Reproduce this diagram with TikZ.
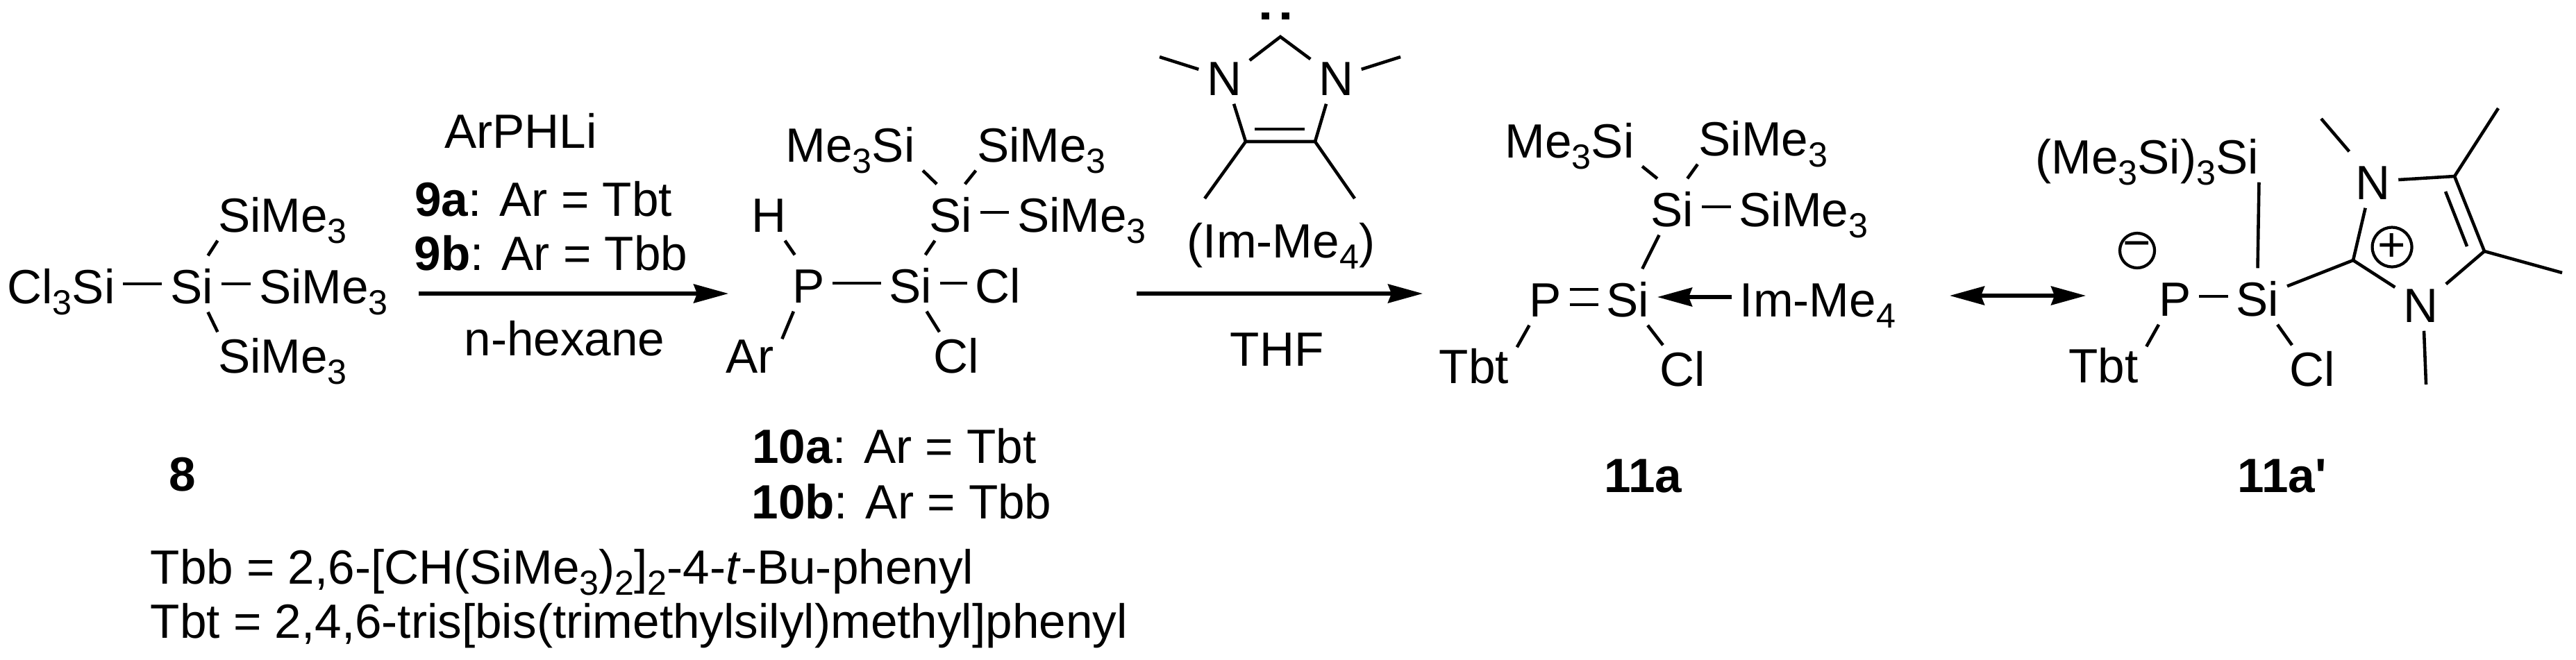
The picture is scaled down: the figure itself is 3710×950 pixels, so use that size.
\documentclass[tikz,border=0pt]{standalone}
\usepackage{fontspec}
\setmainfont{Liberation Sans}[Ligatures=TeXOff]
\usetikzlibrary{arrows.meta}
\newcommand{\lo}[1]{\raisebox{-4.8pt}{\fontsize{14.3}{14}\selectfont #1}}
\tikzset{
  atom/.style={anchor=base, inner xsep=.11cm, inner ysep=.12cm, text height=.56cm, text depth=0pt, font=\fontsize{19.7}{23}\selectfont},
  note/.style={anchor=base west, inner sep=0pt, font=\fontsize{19.7}{23}\selectfont},
  bond/.style={line width=1.3pt},
  react/.style={line width=1.45pt, -{Stealth[length=.5cm,width=.27cm,inset=.05cm]}},
  both/.style={line width=1.45pt, {Stealth[length=.5cm,width=.27cm,inset=.05cm]}-{Stealth[length=.5cm,width=.27cm,inset=.05cm]}},
  charge/.style={circle, draw, line width=1.2pt, inner sep=0pt, minimum size=.5cm, font=\fontsize{19.7}{23}\selectfont}
}
\begin{document}
\begin{tikzpicture}[x=.01cm, y=-.01cm]
\useasboundingbox (0,0) rectangle (3710,950);

% 8
\node (cl8) at (88, 437) [atom] {Cl\lo{3}Si};
\node (si8) at (276, 437) [atom] {Si};
\node (right8) at (466, 437) [atom] {SiMe\lo{3}};
\node (top8) at (407, 334) [atom] {SiMe\lo{3}};
\node (bot8) at (407, 537) [atom] {SiMe\lo{3}};
\node (name8) at (263, 707) [atom] {\textbf{8}};
\draw [bond] (cl8.east) -- (si8.west);
\draw [bond] (si8.east) -- (right8.west);
\draw [bond] (si8.60) -- ([xshift=.11cm]top8.south west);
\draw [bond] (si8.-60) -- ([xshift=.11cm,yshift=-.1cm]bot8.north west);

% first arrow
\coordinate (a1s) at (603, 423);
\coordinate (a1e) at (1049, 423);
\draw [react] (a1s) -- (a1e);
\node (arphli) at (750, 213) [atom] {ArPHLi};
\node (r9a) at (782.5, 311) [atom] {\textbf{9a}: Ar = Tbt};
\node (r9b) at (793.5, 389) [atom] {\textbf{9b}: Ar = Tbb};
\node (hexane) at (813, 512) [atom] {n-hexane};

% 10
\node (me10) at (1224.5, 233) [atom] {Me\lo{3}Si};
\node (top10) at (1500, 233) [atom] {SiMe\lo{3}};
\node (siu10) at (1369, 334) [atom] {Si};
\node (right10) at (1558, 334) [atom] {SiMe\lo{3}};
\node (h10) at (1107, 334) [atom] {H};
\node (p10) at (1164.5, 436) [atom] {P};
\node (si10) at (1311, 436) [atom] {Si};
\node (cl10) at (1437, 436) [atom] {Cl};
\node (clb10) at (1377, 537) [atom] {Cl};
\node (ar10) at (1080, 537) [atom] {Ar};
\node (name10a) at (1288, 667) [atom] {\textbf{10a}: Ar = Tbt};
\node (name10b) at (1298.5, 747) [atom] {\textbf{10b}: Ar = Tbb};
\draw [bond] (h10.-60) -- (p10.116);
\draw [bond] (p10.east) -- (si10.west);
\draw [bond] (si10.east) -- (cl10.west);
\draw [bond] (si10.62) -- (siu10.-119);
\draw [bond] (si10.-60) -- ([xshift=-.24cm,yshift=-.1cm]clb10.north);
\draw [bond] (p10.-118) -- (ar10.24);
\draw [bond] (me10.south east) -- (siu10.116);
\draw [bond] ([xshift=.1cm]top10.south west) -- (siu10.63);
\draw [bond] (siu10.east) -- (right10.west);

% Im-Me4
\node (n1im) at (1763, 137) [atom] {N};
\node (n2im) at (1924, 137) [atom] {N};
\coordinate (c2im) at (1844, 53);
\coordinate (c4im) at (1794, 204);
\coordinate (c5im) at (1894, 204);
\coordinate (me1im) at (1670, 82);
\coordinate (me2im) at (2017, 82);
\coordinate (me4im) at (1735, 286);
\coordinate (me5im) at (1951, 286);
\fill (1817, 18) rectangle (1828, 28);
\fill (1846, 18) rectangle (1857, 28);
\draw [bond] (n1im.31) -- (c2im) -- (n2im.147);
\draw [bond] (n1im.-71) -- (c4im) -- (c5im) -- (n2im.-109);
\draw [bond] ([xshift=.13cm,yshift=.18cm]c4im) -- ([xshift=-.15cm,yshift=.18cm]c5im);
\draw [bond] (n1im.166) -- (me1im);
\draw [bond] (n2im.14) -- (me2im);
\draw [bond] (c4im) -- (me4im);
\draw [bond] (c5im) -- (me5im);
\node (imme) at (1845, 371) [atom] {(Im-Me\lo{4})};

% second arrow
\coordinate (a2s) at (1637, 423);
\coordinate (a2e) at (2049, 423);
\draw [react] (a2s) -- (a2e);
\node (thf) at (1839, 527) [atom] {THF};

% 11a
\node (me11) at (2260.5, 227) [atom] {Me\lo{3}Si};
\node (top11) at (2539.5, 224) [atom] {SiMe\lo{3}};
\node (siu11) at (2408.5, 326) [atom] {Si};
\node (right11) at (2597.5, 326) [atom] {SiMe\lo{3}};
\node (p11) at (2226, 456) [atom] {P};
\node (si11) at (2344.5, 456) [atom] {Si};
\node (im11) at (2618, 456) [atom] {Im-Me\lo{4}};
\node (tbt11) at (2123, 552) [atom] {Tbt};
\node (cl11) at (2423, 556) [atom] {Cl};
\node (name11) at (2366.5, 709) [atom] {\textbf{11a}};
\draw [bond] (me11.south east) -- (siu11.118);
\draw [bond] ([xshift=.1cm]top11.south west) -- (siu11.62);
\draw [bond] (siu11.east) -- (right11.west);
\draw [bond] (siu11.-115) -- (si11.63);
\draw [bond] ([yshift=.11cm]p11.east) -- ([yshift=.11cm]si11.west);
\draw [bond] ([yshift=-.11cm]p11.east) -- ([yshift=-.11cm]si11.west);
\draw [react] (im11.west) -- (si11.east);
\draw [bond] (p11.-120) -- (tbt11.21);
\draw [bond] (si11.-55) -- ([xshift=-.28cm,yshift=-.1cm]cl11.north);

% resonance arrow
\coordinate (a3s) at (2808, 426);
\coordinate (a3e) at (3004, 426);
\draw [both] (a3s) -- (a3e);

% 11a'
\node (ms12) at (3092, 250) [atom] {(Me\lo{3}Si)\lo{3}Si};
\node (p12) at (3132.5, 455) [atom] {P};
\node (si12) at (3251.5, 455) [atom] {Si};
\node (tbt12) at (3029.5, 551) [atom] {Tbt};
\node (cl12) at (3330, 556) [atom] {Cl};
\node (n1ring) at (3417.5, 287) [atom] {N};
\node (n2ring) at (3486, 464) [atom] {N};
\node (minus) at (3078, 361) [charge] {−};
\node (plus) at (3445, 356) [charge] {+};
\node (name12) at (3286.5, 709) [atom] {\textbf{11a'}};
\coordinate (c2ring) at (3389, 375);
\coordinate (c4ring) at (3535, 254);
\coordinate (c5ring) at (3578, 362);
\coordinate (in4ring) at (3522, 276);
\coordinate (in5ring) at (3553, 355);
\coordinate (men1) at (3343, 171);
\coordinate (men2) at (3494, 554);
\coordinate (mec4) at (3598, 156);
\coordinate (mec5) at (3690, 393);
\draw [bond] ([xshift=-.11cm]ms12.south east) -- (si12.north);
\draw [bond] (p12.east) -- (si12.west);
\draw [bond] (p12.-120) -- (tbt12.21);
\draw [bond] (si12.-55) -- ([xshift=-.29cm,yshift=-.1cm]cl12.north);
\draw [bond] (si12.19) -- (c2ring);
\draw [bond] (n1ring.-105) -- (c2ring) -- (n2ring.149);
\draw [bond] (n1ring.east) -- (c4ring) -- (c5ring) -- (n2ring.36);
\draw [bond] (in4ring) -- (in5ring);
\draw [bond] (n1ring.130) -- (men1);
\draw [bond] (n2ring.-83) -- (men2);
\draw [bond] (c4ring) -- (mec4);
\draw [bond] (c5ring) -- (mec5);

% footnote
\node (tbbnote) at (216, 841) [note] {Tbb = 2,6-[CH(SiMe\lo{3})\lo{2}]\lo{2}-4-\textit{t}-Bu-phenyl};
\node (tbtnote) at (216, 919) [note] {Tbt = 2,4,6-tris[bis(trimethylsilyl)methyl]phenyl};

\end{tikzpicture}
\end{document}
